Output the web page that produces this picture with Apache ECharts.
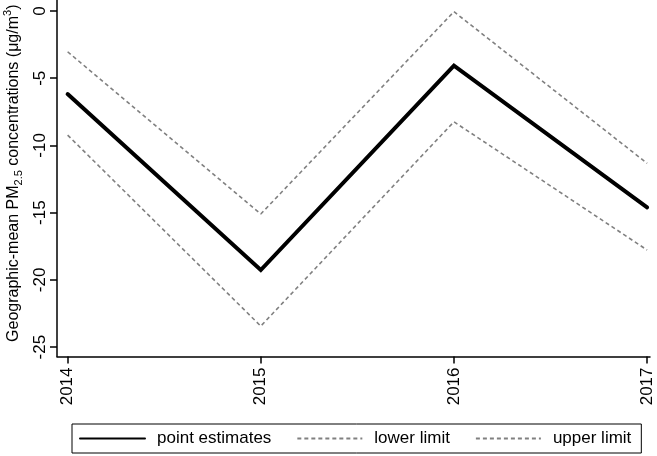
<!DOCTYPE html>
<html>
<head>
<meta charset="utf-8">
<script src="https://cdn.jsdelivr.net/npm/echarts@6/dist/echarts.min.js"></script>
<style>
html,body{margin:0;padding:0;background:#fff;}
#chart{width:657px;height:456px;}
</style>
</head>
<body>
<div id="chart"></div>
<script>
var years = [2014, 2015, 2016, 2017];
var pointEstimates = [-6.18, -19.27, -4.07, -14.6];
var lowerLimit = [-9.23, -23.44, -8.24, -17.78];
var upperLimit = [-3.03, -15.1, -0.05, -11.33];
var yTicks = [0, -5, -10, -15, -20, -25];
var seriesNames = ['point estimates', 'lower limit', 'upper limit'];

function pairs(vals) {
  return years.map(function (y, i) { return [y, vals[i]]; });
}

var FONT = '"Liberation Sans", Arial, sans-serif';
var chart = echarts.init(document.getElementById('chart'), null, {renderer: 'canvas'});
var dashStyle = {color: '#808080', width: 1.6, type: [4, 3]};

chart.setOption({
  animation: false,
  backgroundColor: '#ffffff',
  textStyle: {fontFamily: FONT},
  grid: {left: 57, right: 7, top: 0, bottom: 99.5, containLabel: false, outerBoundsMode: 'none'},
  xAxis: {
    type: 'value',
    min: 2013.945,
    max: 2017.015,
    splitLine: {show: false},
    axisLine: {show: true, onZero: false, lineStyle: {color: '#000', width: 1.5}},
    axisTick: {show: true, length: 7, lineStyle: {color: '#000', width: 1.5}, customValues: years},
    axisLabel: {
      show: true, rotate: 90, margin: 11, fontSize: 17, color: '#000', fontFamily: FONT,
      customValues: years,
      formatter: function (v) { return String(Math.round(v)); }
    }
  },
  yAxis: {
    type: 'value',
    min: -25.7,
    max: 0.82,
    splitLine: {show: false},
    axisLine: {show: true, onZero: false, lineStyle: {color: '#000', width: 1.5}},
    axisTick: {show: true, length: 7, lineStyle: {color: '#000', width: 1.5}, customValues: yTicks},
    axisLabel: {
      show: true, rotate: 90, margin: 8, fontSize: 17, color: '#000', fontFamily: FONT,
      customValues: yTicks,
      formatter: function (v) { return String(Math.round(v)); }
    },
    name: 'Geographic-mean PM{sub|2.5} concentrations (μg/m{sup|3})',
    nameLocation: 'middle',
    nameRotate: 90,
    nameGap: 31,
    nameTextStyle: {
      fontSize: 16, color: '#000', fontFamily: FONT, lineHeight: 22,
      padding: [0, 0, 0, 10],
      rich: {
        sub: {fontSize: 11, lineHeight: 11, verticalAlign: 'bottom', fontFamily: FONT, color: '#000'},
        sup: {fontSize: 11, lineHeight: 11, verticalAlign: 'top', fontFamily: FONT, color: '#000'}
      }
    }
  },
  legend: {
    left: 72,
    top: 424,
    orient: 'horizontal',
    itemWidth: 65,
    itemHeight: 14,
    itemGap: 25,
    padding: [6, 10, 6, 7],
    borderColor: '#000',
    borderWidth: 1,
    backgroundColor: '#fff',
    borderRadius: 0,
    data: seriesNames,
    itemStyle: {opacity: 0},
    textStyle: {fontSize: 17, color: '#000', fontFamily: FONT, padding: [0, 0, 0, 7]}
  },
  series: [
    {
      name: seriesNames[0], type: 'line', data: pairs(pointEstimates),
      symbol: 'none', z: 3,
      lineStyle: {color: '#000', width: 4, cap: 'round', join: 'miter'},
      itemStyle: {color: '#000'}
    },
    {
      name: seriesNames[1], type: 'line', data: pairs(lowerLimit),
      symbol: 'none', z: 2,
      lineStyle: dashStyle, itemStyle: {color: '#808080'}
    },
    {
      name: seriesNames[2], type: 'line', data: pairs(upperLimit),
      symbol: 'none', z: 2,
      lineStyle: dashStyle, itemStyle: {color: '#808080'}
    }
  ]
});
</script>
</body>
</html>
